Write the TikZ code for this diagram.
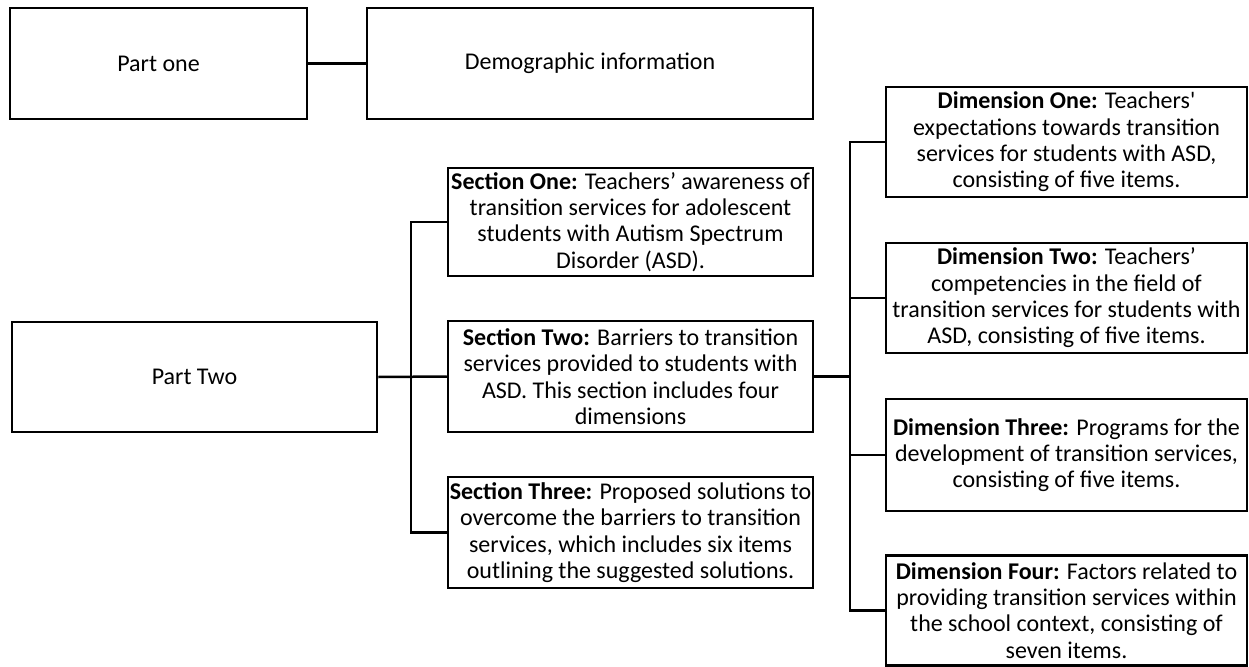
\documentclass[tikz,border=0pt]{standalone}
\usepackage{fontspec}
\setmainfont{Carlito}
\usepackage{tikz}

\begin{document}
\begin{tikzpicture}[x=1pt,y=-1pt,line width=2.5pt,
    box/.style={draw,rectangle,inner sep=0pt,align=center,
      font=\fontsize{24}{26.3}\selectfont},
    sectbox/.style={box,minimum width=365pt},
    dimbox/.style={box,minimum width=361pt}]
             \useasboundingbox (0,0) rectangle (1249,666);

             % part one
             \node[box,minimum width=297pt,minimum height=111pt] (partone) at (158.5,63.5) {Part one};
             \node[box,minimum width=446pt,minimum height=111pt] (demog) at (590,63.5) {Demographic information};

             % part two and its sections
             \node[box,minimum width=365pt,minimum height=110pt] (parttwo) at (194.5,377) {Part Two};
             \node[sectbox,minimum height=108pt] (secone) at (630.5,222)
               {\textbf{Section One:} Teachers’ awareness of\\transition services for adolescent\\students with Autism Spectrum\\Disorder (ASD).};
             \node[sectbox,minimum height=111pt] (sectwo) at (630.5,376.5)
               {\textbf{Section Two:} Barriers to transition\\services provided to students with\\ASD. This section includes four\\dimensions};
             \node[sectbox,minimum height=111pt] (secthree) at (630.5,532.5)
               {\textbf{Section Three:} Proposed solutions to\\overcome the barriers to transition\\services, which includes six items\\outlining the suggested solutions.};

             % dimensions
             \node[dimbox,minimum height=110pt] (dimone) at (1066.5,142)
               {\textbf{Dimension One:} Teachers\textquotesingle\\expectations towards transition\\services for students with ASD,\\consisting of five items.};
             \node[dimbox,minimum height=110pt] (dimtwo) at (1066.5,298)
               {\textbf{Dimension Two:} Teachers’\\competencies in the field of\\transition services for students with\\ASD, consisting of five items.};
             \node[dimbox,minimum height=112pt] (dimthree) at (1066.5,455)
               {\textbf{Dimension Three:} Programs for the\\development of transition services,\\consisting of five items.};
             \node[dimbox,minimum height=110pt] (dimfour) at (1066.5,610.5)
               {\textbf{Dimension Four:} Factors related to\\providing transition services within\\the school context, consisting of\\seven items.};

             \coordinate (ltrunk) at (411,0);
             \coordinate (rtrunk) at (850,0);

             \draw (partone) -- (demog);
             \draw (parttwo.east) -- (sectwo.west);
             \draw (secone.west) -- (secone.west -| ltrunk) -- (secthree.west -| ltrunk) -- (secthree.west);
             \draw (sectwo.east) -- (sectwo.east -| rtrunk);
             \draw (dimone.west) -- (dimone.west -| rtrunk) -- (dimfour.west -| rtrunk) -- (dimfour.west);
             \foreach \d in {dimtwo,dimthree}
               \draw (\d.west) -- (\d.west -| rtrunk);
             \end{tikzpicture}
\end{document}
